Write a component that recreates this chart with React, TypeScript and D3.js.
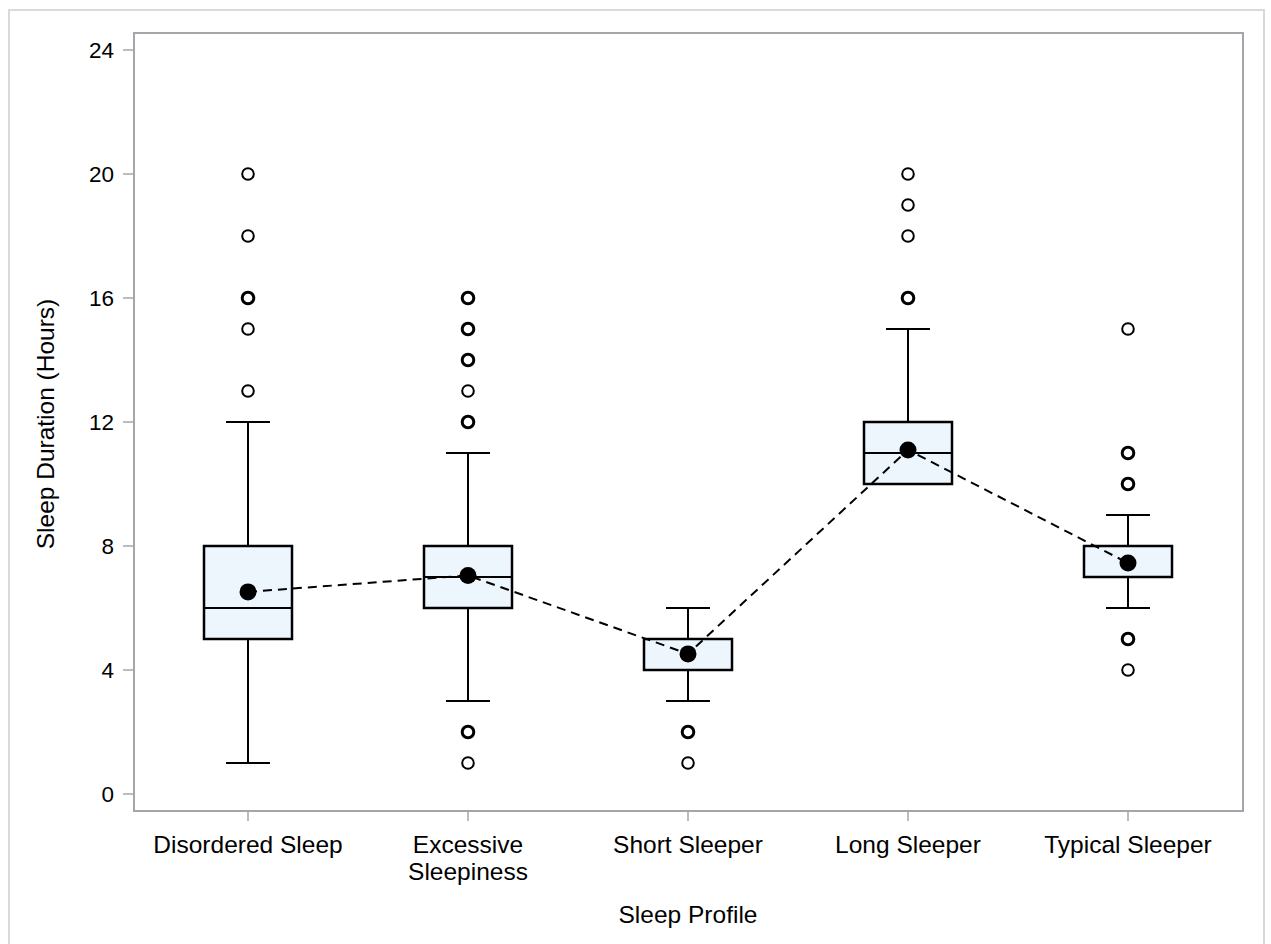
import * as d3 from "d3";

// sleep profile groups, in plot order
const categories = [
  "Disordered Sleep",
  "Excessive Sleepiness",
  "Short Sleeper",
  "Long Sleeper",
  "Typical Sleeper",
];
const tickLabelLines = [
  ["Disordered Sleep"],
  ["Excessive", "Sleepiness"],
  ["Short Sleeper"],
  ["Long Sleeper"],
  ["Typical Sleeper"],
];

const whiskerLow = [1, 3, 3, 10, 6];
const q1 = [5, 6, 4, 10, 7];
const median = [6, 7, 4, 11, 8];
const q3 = [8, 8, 5, 12, 8];
const whiskerHigh = [12, 11, 6, 15, 9];
const means = [6.52, 7.05, 4.52, 11.1, 7.45];

// repeated values show as heavier circles
const outliers = [
  [13, 15, 16, 16, 18, 20],
  [1, 2, 2, 12, 12, 13, 14, 14, 15, 15, 16, 16],
  [1, 2, 2],
  [16, 16, 18, 19, 20],
  [4, 5, 5, 10, 10, 11, 11, 15],
];

const yTicks = [0, 4, 8, 12, 16, 20, 24];

const W = 1271;
const H = 944;
const left = 134;
const right = 1243;
const top = 33;
const bottom = 811;
const font = "Arial, 'Liberation Sans', sans-serif";
const frameColor = "#a3a7ab";
const boxFill = "#edf5fd";

export default function App() {
  const x = d3.scalePoint<string>().domain(categories).range([248, 1128]);
  const y = d3.scaleLinear().domain([0, 24]).range([794, 50]);
  const boxW = 88;
  const capW = 44;

  const meanLine = d3
    .line<number>()
    .x((_, i) => x(categories[i]) as number)
    .y((d) => y(d));

  return (
    <svg
      width={W}
      height={H}
      style={{ position: "absolute", left: 0, top: 0, background: "#fff" }}
    >
      <rect x={9} y={10} width={1255} height={960} fill="none" stroke="#d9d9d9" strokeWidth={2} />

      {/* y axis ticks */}
      <g fontFamily={font} fontSize={22.5} fill="#000">
        {yTicks.map((t) => (
          <g key={t}>
            <line x1={123} x2={left} y1={y(t)} y2={y(t)} stroke={frameColor} strokeWidth={1.5} />
            <text x={114} y={y(t)} dy="0.35em" textAnchor="end">
              {t}
            </text>
          </g>
        ))}
      </g>

      {/* x axis ticks + labels */}
      <g fontFamily={font} fontSize={24.5} fill="#000">
        {categories.map((c, i) => (
          <g key={c}>
            <line x1={x(c)} x2={x(c)} y1={bottom} y2={821} stroke={frameColor} strokeWidth={1.5} />
            {tickLabelLines[i].map((ln, j) => (
              <text key={j} x={x(c)} y={853 + j * 27} textAnchor="middle">
                {ln}
              </text>
            ))}
          </g>
        ))}
      </g>

      <text x={688} y={923} textAnchor="middle" fontFamily={font} fontSize={24.5}>
        Sleep Profile
      </text>
      <text
        transform={`translate(54, ${(top + bottom) / 2 + 2}) rotate(-90)`}
        textAnchor="middle"
        fontFamily={font}
        fontSize={24.5}
      >
        Sleep Duration (Hours)
      </text>

      {/* boxes */}
      {categories.map((c, i) => {
        const cx = x(c) as number;
        return (
          <g key={c} stroke="#000" strokeWidth={2}>
            <line x1={cx} x2={cx} y1={y(whiskerLow[i])} y2={y(q1[i])} />
            <line x1={cx} x2={cx} y1={y(q3[i])} y2={y(whiskerHigh[i])} />
            <line x1={cx - capW / 2} x2={cx + capW / 2} y1={y(whiskerLow[i])} y2={y(whiskerLow[i])} />
            <line x1={cx - capW / 2} x2={cx + capW / 2} y1={y(whiskerHigh[i])} y2={y(whiskerHigh[i])} />
            <rect
              x={cx - boxW / 2}
              y={y(q3[i])}
              width={boxW}
              height={y(q1[i]) - y(q3[i])}
              fill={boxFill}
              strokeWidth={2.5}
            />
            <line x1={cx - boxW / 2} x2={cx + boxW / 2} y1={y(median[i])} y2={y(median[i])} />
          </g>
        );
      })}

      {/* outliers */}
      {categories.map((c, i) => {
        const counts = d3.rollups(outliers[i], (v) => v.length, (d) => d);
        return counts.map(([v, n]) => (
          <circle
            key={c + v}
            cx={x(c)}
            cy={y(v)}
            r={5.8}
            fill="#fff"
            stroke="#000"
            strokeWidth={n > 1 ? 3 : 2}
          />
        ));
      })}

      <path
        d={meanLine(means) || ""}
        fill="none"
        stroke="#000"
        strokeWidth={2}
        strokeDasharray="9,6"
      />
      {categories.map((c, i) => (
        <circle key={c} cx={x(c)} cy={y(means[i])} r={8.5} fill="#000" />
      ))}

      {/* plot frame */}
      <rect
        x={left}
        y={top}
        width={right - left}
        height={bottom - top}
        fill="none"
        stroke={frameColor}
        strokeWidth={2}
      />
    </svg>
  );
}
